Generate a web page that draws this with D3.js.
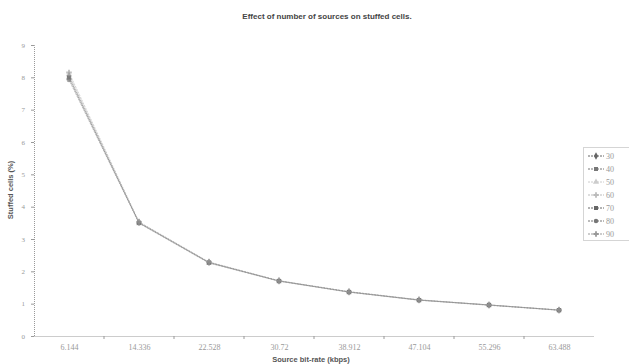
<!DOCTYPE html>
<html>
<head>
<meta charset="utf-8">
<script src="https://cdn.jsdelivr.net/npm/d3@7"></script>
<style>
  body { margin: 0; background: #fff; }
  svg { display: block; font-family: "Liberation Sans", Arial, sans-serif; }
</style>
</head>
<body>
<div id="chart"></div>
<script>
// Source bit-rate categories (kbps)
var categories = ["6.144", "14.336", "22.528", "30.72", "38.912", "47.104", "55.296", "63.488"];

// Number of sources (legend labels)
var seriesNames = ["30", "40", "50", "60", "70", "80", "90"];

// Stuffed cells (%) per series
var s30 = [8.05, 3.52, 2.28, 1.71, 1.37, 1.12, 0.96, 0.80];
var s40 = [7.98, 3.50, 2.27, 1.70, 1.36, 1.11, 0.96, 0.80];
var s50 = [8.10, 3.48, 2.25, 1.69, 1.35, 1.10, 0.95, 0.79];
var s60 = [7.95, 3.51, 2.28, 1.70, 1.36, 1.11, 0.96, 0.80];
var s70 = [8.00, 3.50, 2.27, 1.70, 1.36, 1.11, 0.96, 0.80];
var s80 = [7.92, 3.49, 2.26, 1.70, 1.36, 1.11, 0.95, 0.80];
var s90 = [8.15, 3.53, 2.29, 1.71, 1.37, 1.12, 0.96, 0.81];

var yTicks = [0, 1, 2, 3, 4, 5, 6, 7, 8, 9];

var allSeries = [s30, s40, s50, s60, s70, s80, s90];
var colors = ["#666", "#777", "#ccc", "#bbb", "#666", "#777", "#999"];
var symbols = [d3.symbolDiamond, d3.symbolSquare, d3.symbolTriangle, d3.symbolCross, d3.symbolSquare, d3.symbolCircle, d3.symbolCross];

var width = 629, height = 364;
var plotLeft = 34, plotRight = 594, plotTop = 45, plotBottom = 336;

var svg = d3.select("#chart").append("svg")
    .attr("width", width)
    .attr("height", height);

var x = d3.scalePoint().domain(categories).range([plotLeft, plotRight]).padding(0.5);
var y = d3.scaleLinear().domain([0, 9]).range([plotBottom, plotTop]);

// Title
svg.append("text")
    .attr("x", 327).attr("y", 19)
    .attr("text-anchor", "middle")
    .attr("font-size", 8).attr("font-weight", "bold").attr("fill", "#444")
    .text("Effect of number of sources on stuffed cells.");

// Y axis
var yAxis = svg.append("g").attr("transform", "translate(" + plotLeft + ",0)")
    .call(d3.axisLeft(y).tickValues(yTicks).tickSize(3).tickFormat(d3.format("d")));
yAxis.select(".domain").attr("stroke", "#999").attr("stroke-dasharray", "1,1");
yAxis.selectAll(".tick line").attr("stroke", "#999");
yAxis.selectAll(".tick text").attr("fill", "#999").attr("font-size", 7).attr("x", -9)
    .attr("font-family", "'Liberation Serif', serif");

// X axis
var xAxis = svg.append("g").attr("transform", "translate(0," + plotBottom + ")")
    .call(d3.axisBottom(x).tickSize(0).tickPadding(8));
xAxis.select(".domain").attr("stroke", "#999").attr("stroke-dasharray", "1,1");
xAxis.selectAll(".tick text").attr("fill", "#999").attr("font-size", 8)
    .attr("font-family", "'Liberation Serif', serif");

// category boundary ticks
var step = x.step();
svg.append("g").selectAll("line")
    .data(categories.slice(0, -1))
    .enter().append("line")
    .attr("x1", function(d) { return x(d) + step / 2; })
    .attr("x2", function(d) { return x(d) + step / 2; })
    .attr("y1", plotBottom).attr("y2", plotBottom + 3)
    .attr("stroke", "#999");

// Axis titles
svg.append("text")
    .attr("x", 311).attr("y", 362)
    .attr("text-anchor", "middle")
    .attr("font-size", 7.5).attr("font-weight", "bold").attr("fill", "#555")
    .text("Source bit-rate (kbps)");

svg.append("text")
    .attr("transform", "translate(13,190) rotate(-90)")
    .attr("text-anchor", "middle")
    .attr("font-size", 7.5).attr("font-weight", "bold").attr("fill", "#555")
    .text("Stuffed cells (%)");

// Lines
var line = d3.line()
    .x(function(d, i) { return x(categories[i]); })
    .y(function(d) { return y(d); });

allSeries.forEach(function(vals, k) {
    var g = svg.append("g");
    g.append("path")
        .datum(vals)
        .attr("d", line)
        .attr("fill", "none")
        .attr("stroke", colors[k])
        .attr("stroke-width", 0.7)
        .attr("stroke-opacity", 0.6)
        .attr("stroke-dasharray", "2,1");
    g.selectAll("path.m")
        .data(vals)
        .enter().append("path")
        .attr("class", "m")
        .attr("transform", function(d, i) { return "translate(" + x(categories[i]) + "," + y(d) + ")"; })
        .attr("d", d3.symbol().type(symbols[k]).size(18))
        .attr("fill", colors[k])
        .attr("fill-opacity", 0.6);
});

// Legend
var legend = svg.append("g");
legend.append("rect")
    .attr("x", 583.5).attr("y", 147.5)
    .attr("width", 60).attr("height", 93)
    .attr("fill", "#fff")
    .attr("stroke", "#aaa").attr("stroke-dasharray", "1,1");

seriesNames.forEach(function(name, k) {
    var ly = 156 + k * 13;
    legend.append("line")
        .attr("x1", 588).attr("x2", 604)
        .attr("y1", ly).attr("y2", ly)
        .attr("stroke", colors[k]).attr("stroke-dasharray", "2,1");
    legend.append("path")
        .attr("transform", "translate(596," + ly + ")")
        .attr("d", d3.symbol().type(symbols[k]).size(16))
        .attr("fill", colors[k]);
    legend.append("text")
        .attr("x", 606).attr("y", ly + 3)
        .attr("font-size", 8).attr("fill", "#999")
        .attr("font-family", "'Liberation Serif', serif")
        .text(name);
});
</script>
</body>
</html>
